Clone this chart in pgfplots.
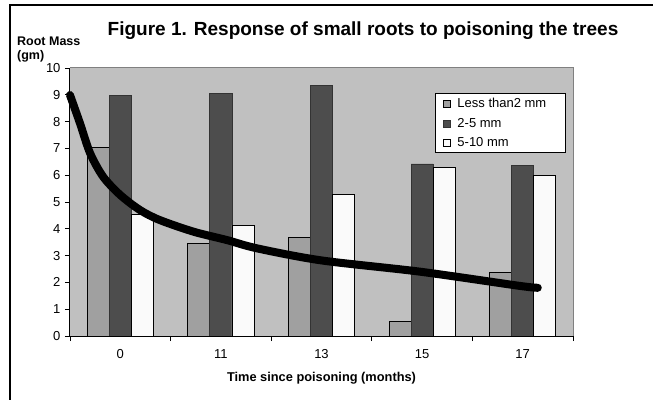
\documentclass[border=0pt]{standalone}
\usepackage{fontspec}
\setmainfont{Liberation Sans}
\usepackage{pgfplots}
\pgfplotsset{compat=1.18}
\definecolor{plotbg}{RGB}{192,192,192}
\definecolor{barA}{RGB}{160,160,160}
\definecolor{barB}{RGB}{77,77,77}
\definecolor{barC}{RGB}{250,250,250}
\definecolor{frameg}{RGB}{128,128,128}
\begin{document}
\begin{tikzpicture}
\useasboundingbox (-70bp,-64bp) rectangle (583bp,336bp);
\draw[line width=1.2bp] (-60bp,-70bp) -- (-60bp,331bp) -- (590bp,331bp);
\begin{axis}[
  at={(0,0)}, anchor=south west,
  scale only axis, width=503bp, height=268bp,
  xmin=-0.5, xmax=4.5, ymin=0, ymax=10,
  axis background/.style={fill=plotbg},
  axis line style={draw=none},
  /pgf/number format/assume math mode=true,
  ytick={0,1,...,10}, ytick pos=left,
  yticklabel={\fontsize{13bp}{15bp}\selectfont\pgfmathprintnumber{\tick}},
  xtick={0,1,2,3,4}, xtick pos=bottom,
  xticklabels={0,11,13,15,17},
  minor xtick={-0.5,0.5,1.5,2.5,3.5,4.5},
  tick align=outside,
  major tick length=5bp, minor tick length=5bp,
  x tick style={draw=none},
  minor x tick style={draw=black, line width=0.8bp},
  y tick style={draw=black, line width=0.8bp},
  xticklabel style={yshift=-5bp, font=\fontsize{13bp}{15bp}\selectfont},
  yticklabel style={xshift=-1bp},
  xlabel={\bfseries Time since poisoning (months)},
  xlabel style={at={(axis description cs:0.5,0)}, anchor=center, yshift=-42bp, font=\fontsize{12.8bp}{15bp}\selectfont},
  legend style={at={(rel axis cs:0.9855,0.9056)}, anchor=north east, draw=black, line width=0.8bp, fill=white,
    font=\fontsize{13bp}{15bp}\selectfont, row sep=5bp, inner xsep=3bp, inner ysep=2.5bp},
  legend cell align=left,
  legend image code/.code={\draw[#1, line width=0.6bp] (4bp,-3.5bp) rectangle (11bp,3.5bp);
     \path (0bp,0bp) (16bp,0bp);},
  clip=false,
]
\addplot[ybar, bar width=22bp, bar shift=-22bp, fill=barA, draw=black, line width=0.8bp]
  coordinates {(0,7.04) (1,3.46) (2,3.67) (3,0.53) (4,2.38)};
\addlegendentry{Less than2 mm\hspace*{14bp}}
\addplot[ybar, bar width=22bp, bar shift=0bp, fill=barB, draw=black!80, line width=0.8bp]
  coordinates {(0,8.98) (1,9.05) (2,9.35) (3,6.42) (4,6.38)};
\addlegendentry{2-5 mm}
\addplot[ybar, bar width=22bp, bar shift=22bp, fill=barC, draw=black, line width=0.8bp]
  coordinates {(0,4.53) (1,4.14) (2,5.29) (3,6.28) (4,5.98)};
\addlegendentry{5-10 mm}
\addplot[black, line width=8bp, smooth, line cap=round, forget plot]
  coordinates {(-0.5,8.99) (-0.40,7.93) (-0.30,6.82) (-0.17,5.94) (0,5.26) (0.196,4.70) (0.39,4.33) (0.73,3.89) (1.06,3.58) (1.36,3.27) (2.0,2.82) (2.98,2.40) (3.97,1.87) (4.15,1.80)};
\draw[frameg, line width=1bp] (rel axis cs:0,1) -- (rel axis cs:1,1) -- (rel axis cs:1,0);
\draw[black, line width=1bp] (rel axis cs:0,1) -- (rel axis cs:0,0) -- (rel axis cs:1,0);
\end{axis}
\node[font=\fontsize{19bp}{22bp}\selectfont\bfseries] at (293bp,305bp) {Figure 1. Response of small roots to poisoning the trees};
\node[font=\fontsize{12.5bp}{15bp}\selectfont\bfseries, anchor=base west, inner sep=0pt] at (-53bp,290bp) {Root Mass};
\node[font=\fontsize{12.5bp}{15bp}\selectfont\bfseries, anchor=base west, inner sep=0pt] at (-53bp,276bp) {(gm)};
\end{tikzpicture}
\end{document}
